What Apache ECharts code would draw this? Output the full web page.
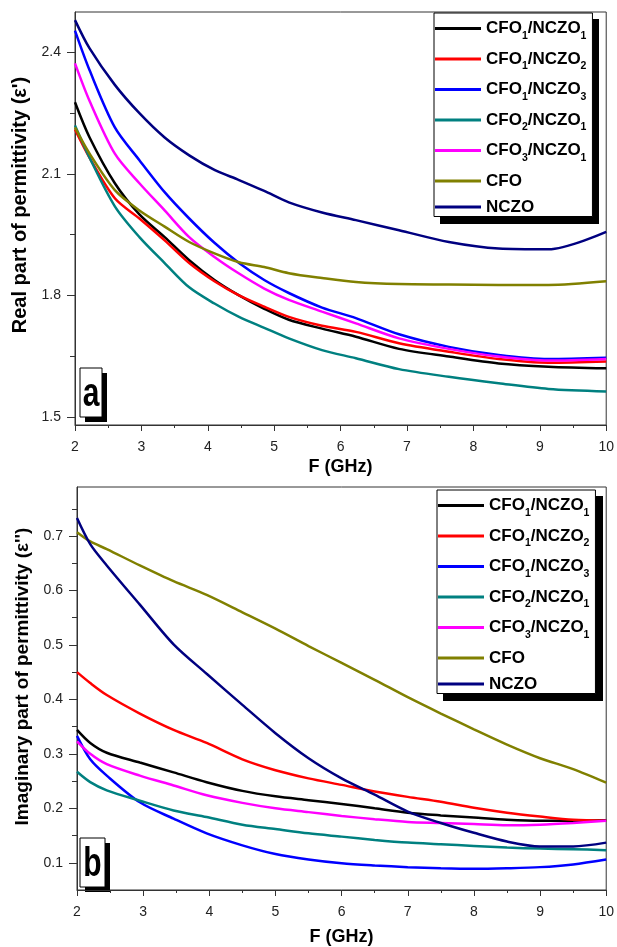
<!DOCTYPE html>
<html>
<head>
<meta charset="utf-8">
<script src="https://cdn.jsdelivr.net/npm/echarts@6/dist/echarts.min.js"></script>
<style>
html,body{margin:0;padding:0;background:#fff;}
#chart{width:617px;height:947px;}
</style>
</head>
<body>
<div id="chart"></div>
<script>
// ---------- Data ----------
var seriesNames = ['CFO1/NCZO1','CFO1/NCZO2','CFO1/NCZO3','CFO2/NCZO1','CFO3/NCZO1','CFO','NCZO'];
var seriesColors = ['#000000','#ff0000','#0000ff','#008080','#ff00ff','#808000','#000080'];

// Panel (a): real part of permittivity
var freqA = [2, 2.22, 2.6, 2.97, 3.35, 3.72, 4.1, 4.47, 4.85, 5.22, 5.72, 6.23, 6.88, 7.63, 8.38, 9.13, 10];
var realCFO1NCZO1 = [2.277, 2.19, 2.077, 2.0, 1.944, 1.887, 1.838, 1.80, 1.767, 1.74, 1.718, 1.698, 1.668, 1.649, 1.632, 1.624, 1.62];
var realCFO1NCZO2 = [2.21, 2.14, 2.04, 1.99, 1.936, 1.88, 1.835, 1.80, 1.772, 1.747, 1.725, 1.71, 1.682, 1.661, 1.643, 1.634, 1.637];
var realCFO1NCZO3 = [2.454, 2.356, 2.215, 2.134, 2.055, 1.99, 1.93, 1.88, 1.838, 1.806, 1.77, 1.744, 1.704, 1.673, 1.653, 1.643, 1.646];
var realCFO2NCZO1 = [2.22, 2.14, 2.02, 1.944, 1.88, 1.82, 1.78, 1.747, 1.72, 1.694, 1.665, 1.645, 1.618, 1.599, 1.583, 1.569, 1.563];
var realCFO3NCZO1 = [2.373, 2.28, 2.15, 2.077, 2.01, 1.944, 1.895, 1.854, 1.817, 1.789, 1.76, 1.731, 1.694, 1.668, 1.649, 1.639, 1.643];
var realCFO       = [2.215, 2.15, 2.06, 2.01, 1.97, 1.932, 1.904, 1.882, 1.87, 1.855, 1.843, 1.833, 1.828, 1.827, 1.826, 1.826, 1.835];
var realNCZO      = [2.48, 2.41, 2.32, 2.25, 2.19, 2.146, 2.11, 2.085, 2.058, 2.03, 2.005, 1.986, 1.961, 1.932, 1.916, 1.914, 1.957];
var realTicks = [1.5, 1.8, 2.1, 2.4];
var realMinorTicks = [1.65, 1.95, 2.25];

// Panel (b): imaginary part of permittivity
var freqB = [2, 2.2, 2.45, 2.95, 3.46, 3.96, 4.5, 5.0, 5.5, 6.0, 6.5, 7.0, 7.5, 8.0, 8.5, 9.0, 9.5, 10];
var imagCFO1NCZO1 = [0.344, 0.32, 0.302, 0.284, 0.266, 0.248, 0.232, 0.222, 0.215, 0.208, 0.2, 0.192, 0.187, 0.183, 0.179, 0.177, 0.177, 0.178];
var imagCFO1NCZO2 = [0.45, 0.43, 0.408, 0.374, 0.344, 0.32, 0.29, 0.27, 0.255, 0.243, 0.231, 0.221, 0.212, 0.201, 0.192, 0.185, 0.179, 0.177];
var imagCFO1NCZO3 = [0.333, 0.29, 0.26, 0.211, 0.181, 0.154, 0.132, 0.116, 0.106, 0.099, 0.095, 0.092, 0.09, 0.089, 0.09, 0.092, 0.097, 0.106];
var imagCFO2NCZO1 = [0.267, 0.248, 0.233, 0.214, 0.196, 0.184, 0.17, 0.162, 0.154, 0.148, 0.142, 0.137, 0.134, 0.131, 0.128, 0.126, 0.125, 0.123];
var imagCFO3NCZO1 = [0.323, 0.30, 0.281, 0.26, 0.242, 0.224, 0.21, 0.2, 0.193, 0.186, 0.18, 0.175, 0.173, 0.171, 0.169, 0.17, 0.173, 0.177];
var imagCFO       = [0.707, 0.69, 0.676, 0.646, 0.617, 0.592, 0.56, 0.53, 0.498, 0.467, 0.436, 0.404, 0.374, 0.345, 0.317, 0.292, 0.272, 0.247];
var imagNCZO      = [0.733, 0.685, 0.646, 0.574, 0.501, 0.447, 0.39, 0.338, 0.292, 0.255, 0.225, 0.194, 0.173, 0.155, 0.139, 0.13, 0.13, 0.137];
var imagTicks = [0.1, 0.2, 0.3, 0.4, 0.5, 0.6, 0.7];
var imagMinorTicks = [0.15, 0.25, 0.35, 0.45, 0.55, 0.65, 0.75];

// ---------- Build ----------
var realSets = [realCFO1NCZO1, realCFO1NCZO2, realCFO1NCZO3, realCFO2NCZO1, realCFO3NCZO1, realCFO, realNCZO];
var imagSets = [imagCFO1NCZO1, imagCFO1NCZO2, imagCFO1NCZO3, imagCFO2NCZO1, imagCFO3NCZO1, imagCFO, imagNCZO];
function pairs(xs, ys) { return xs.map(function (x, i) { return [x, ys[i]]; }); }

var FONT = 'Liberation Sans, Arial, sans-serif';
var AX = '#333';

function legendLabel(name) {
  var m = name.match(/^CFO(\d)\/NCZO(\d)$/);
  if (m) return '{m|CFO}{s|' + m[1] + '}{m|/NCZO}{s|' + m[2] + '}';
  if (name === 'NCZO') return '{n|NCZO}';
  return '{m|' + name + '}';
}
var richLegend = {
  m: { fontSize: 17, fontWeight: 'bold', color: '#000', lineHeight: 26, fontFamily: FONT },
  n: { fontSize: 17, fontWeight: 'bold', color: '#000', lineHeight: 14, fontFamily: FONT },
  s: { fontSize: 10.5, fontWeight: 'bold', color: '#000', lineHeight: 8, verticalAlign: 'bottom', fontFamily: FONT }
};
function makeLegend(left, top) {
  return {
    orient: 'vertical', left: left, top: top, z: 10,
    data: seriesNames,
    icon: 'rect',
    itemWidth: 46, itemHeight: 3, itemGap: 9,
    padding: [7, 6, 1, 1],
    backgroundColor: '#fff', borderColor: '#000', borderWidth: 1,
    formatter: legendLabel,
    textStyle: { rich: richLegend },
    selectedMode: false
  };
}

function xAxisDef(grid, nameGap, labelMargin) {
  return {
    gridIndex: grid, type: 'value', min: 2, max: 10, interval: 1,
    axisLine: { show: true, onZero: false, lineStyle: { color: AX, width: 1 } },
    axisTick: { show: true, length: 6, lineStyle: { color: AX } },
    minorTick: { show: true, splitNumber: 2, length: 3, lineStyle: { color: AX } },
    splitLine: { show: false }, minorSplitLine: { show: false },
    axisLabel: { fontSize: 14, color: '#222', margin: labelMargin, fontFamily: FONT },
    name: 'F (GHz)', nameLocation: 'middle', nameGap: nameGap,
    nameTextStyle: { fontSize: 18, fontWeight: 'bold', color: '#000', fontFamily: FONT }
  };
}
function yMajor(grid, min, max, ticks, name, shift, fs) {
  return {
    gridIndex: grid, type: 'value', min: min, max: max, position: 'left',
    axisLine: { show: true, onZero: false, lineStyle: { color: AX, width: 1 } },
    axisTick: { show: true, length: 8, customValues: ticks, lineStyle: { color: AX } },
    axisLabel: { customValues: ticks, fontSize: 14, color: '#222', margin: 14, fontFamily: FONT,
      formatter: function (v) { return v.toFixed(1); } },
    splitLine: { show: false },
    name: name, nameLocation: 'middle', nameRotate: 90, nameGap: 42,
    nameTextStyle: { fontSize: fs, fontWeight: 'bold', color: '#000', fontFamily: FONT, padding: [0, 0, 0, shift] }
  };
}
function yMinor(grid, min, max, ticks) {
  return {
    gridIndex: grid, type: 'value', min: min, max: max, position: 'left', offset: 0,
    axisLine: { show: false },
    axisTick: { show: true, length: 5, customValues: ticks, lineStyle: { color: AX } },
    axisLabel: { show: false },
    splitLine: { show: false }
  };
}

var series = [];
seriesNames.forEach(function (n, i) {
  series.push({ name: n, type: 'line', xAxisIndex: 0, yAxisIndex: 0, data: pairs(freqA, realSets[i]),
    symbol: 'none', smooth: 0.3, color: seriesColors[i],
    lineStyle: { width: 2.5, color: seriesColors[i] }, silent: true, z: 2 });
});
seriesNames.forEach(function (n, i) {
  series.push({ name: n, type: 'line', xAxisIndex: 1, yAxisIndex: 2, data: pairs(freqB, imagSets[i]),
    symbol: 'none', smooth: 0.3, color: seriesColors[i],
    lineStyle: { width: 2.5, color: seriesColors[i] }, silent: true, z: 2 });
});

function panelTag(x, y, w, h, letter) {
  return {
    type: 'group', z: 50, children: [
      { type: 'rect', shape: { x: x + 5, y: y + 5, width: w, height: h }, style: { fill: '#000' } },
      { type: 'rect', shape: { x: x, y: y, width: w, height: h }, style: { fill: '#fff', stroke: '#000', lineWidth: 1 } },
      { type: 'text', x: x + w / 2, y: y + h / 2 + 2, scaleX: 0.75,
        style: { text: letter, font: 'bold 40px ' + FONT, fill: '#000', align: 'center', verticalAlign: 'middle' } }
    ]
  };
}
function legendShadow(x, y, w, h) {
  return { type: 'rect', z: 5, shape: { x: x, y: y, width: w, height: h }, style: { fill: '#000' } };
}

var option = {
  backgroundColor: '#fff',
  animation: false,
  grid: [
    { left: 75, top: 12, width: 533, height: 413, show: true, borderColor: AX, borderWidth: 1, backgroundColor: 'rgba(0,0,0,0)' },
    { left: 77, top: 487, width: 530, height: 408, show: true, borderColor: AX, borderWidth: 1, backgroundColor: 'rgba(0,0,0,0)' }
  ],
  xAxis: [xAxisDef(0, 33, 15), xAxisDef(1, 38, 15)],
  yAxis: [
    yMajor(0, 1.48, 2.5, realTicks, "Real part of permittivity (\u03b5')", 27, 20),
    yMinor(0, 1.48, 2.5, realMinorTicks),
    yMajor(1, 0.05, 0.79, imagTicks, "Imaginary part of permittivity (\u03b5'')", 24, 19),
    yMinor(1, 0.05, 0.79, imagMinorTicks)
  ],
  legend: [makeLegend(434, 13), makeLegend(437, 490)],
  series: series,
  graphic: [
    legendShadow(440, 19, 159, 205),
    legendShadow(443, 496, 160, 205),
    panelTag(80, 368, 22, 49, 'a'), panelTag(80, 838, 25, 49, 'b')
  ]
};

var chart = echarts.init(document.getElementById('chart'), null, { renderer: 'canvas', width: 617, height: 947 });
chart.setOption(option);
</script>
</body>
</html>
